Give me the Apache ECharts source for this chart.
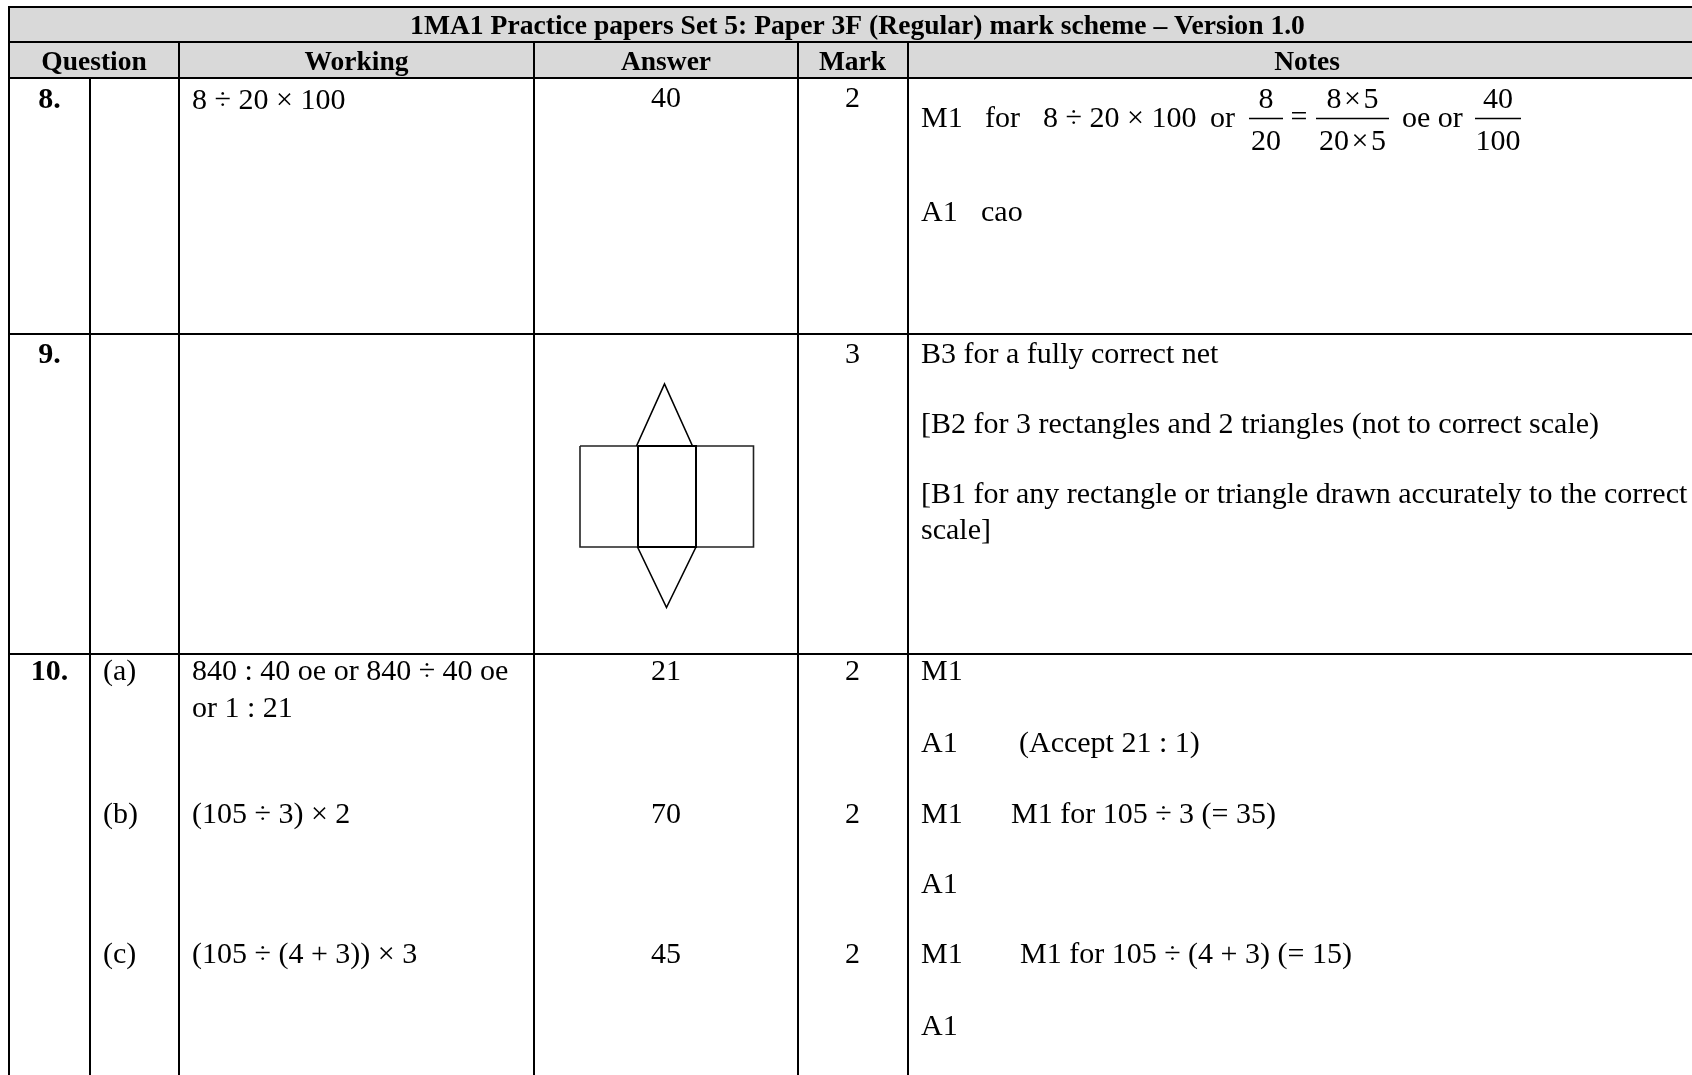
<!DOCTYPE html>
<html>
<head>
<meta charset="utf-8">
<title>1MA1 mark scheme</title>
<style>
  html, body { margin: 0; padding: 0; background: #fff; overflow: hidden; }
  #main { width: 1692px; height: 1075px; }
</style>
<script src="https://cdn.jsdelivr.net/npm/echarts@6/dist/echarts.min.js"></script>
</head>
<body>
<div id="main"></div>
<script>
// texts
const titleText = ['1MA1 Practice papers Set 5: Paper 3F (Regular) mark scheme – Version 1.0']
const headers = ['Question', 'Working', 'Answer', 'Mark', 'Notes']
const questions = ['8.', '9.', '10.']
const parts = ['(a)', '(b)', '(c)']
const workings = ['8 ÷ 20 × 100', '840 : 40 oe or 840 ÷ 40 oe', 'or 1 : 21', '(105 ÷ 3) × 2', '(105 ÷ (4 + 3)) × 3']
const answers = ['40', '21', '70', '45']
const marks = ['2', '3', '2', '2', '2']
const notes = [
  'M1', 'for', '8 ÷ 20 × 100', 'or', '=', 'oe or',
  'A1', 'cao',
  'B3 for a fully correct net',
  '[B2 for 3 rectangles and 2 triangles (not to correct scale)',
  '[B1 for any rectangle or triangle drawn accurately to the correct',
  'scale]',
  'M1', 'A1', '(Accept 21 : 1)', 'M1', 'M1 for 105 ÷ 3 (= 35)', 'A1', 'M1', 'M1 for 105 ÷ (4 + 3) (= 15)', 'A1'
]
const fractions = [['8', '20'], ['8\u200a×\u200a5', '20\u200a×\u200a5'], ['40', '100']]

// layout in page units
const colEdges = [9, 90, 179, 534, 798, 908]
const rowEdges = [7, 42, 78, 334, 654]
const pageW = 1692
const pageH = 1075
const tableRight = 1706
const questionY = [100, 355, 672]
const partY = [672, 815, 955]
const workingY = [101, 672, 709, 815, 955]
const answerY = [99, 672, 815, 955]
const markY = [99, 355, 672, 815, 955]
const noteX = [921, 985, 1043, 1210, 1299, 1402, 921, 981, 921, 921, 921, 921, 921, 921, 1019, 921, 1011, 921, 921, 1020, 921]
const noteY = [119.5, 119.5, 119.5, 119.5, 118, 119.5, 213, 213, 355, 425, 495, 531, 672, 744, 744, 815, 815, 885, 955, 955, 1027]
const fractionX = [[1249, 1283], [1316, 1389], [1475, 1521]]
const fractionLineY = 118.5
const fractionTopY = 100
const fractionBottomY = 142

// net drawing in the answer cell
const netOuter = [[580, 446], [753.5, 446], [753.5, 547], [580, 547], [580, 446]]
const netInner = [[638, 446], [696, 446], [696, 547], [638, 547], [638, 446]]
const netTop = [[636.5, 446], [664.5, 384], [692.5, 446]]
const netBottom = [[637.5, 547], [666.5, 607.5], [696, 547]]

const SERIF = '"Liberation Serif", "Times New Roman", serif'

function textItem (text, x, y, align, weight, size) {
  return { text, x, y, align, weight, size }
}

let cells = []
cells.push(textItem(titleText[0], (colEdges[0] + tableRight) / 2, 27, 'center', 'bold', 27.6))
const headerX = [
  (colEdges[0] + colEdges[2]) / 2,
  (colEdges[2] + colEdges[3]) / 2,
  (colEdges[3] + colEdges[4]) / 2,
  (colEdges[4] + colEdges[5]) / 2 - 0.5,
  (colEdges[5] + tableRight) / 2
]
headers.forEach((h, i) => cells.push(textItem(h, headerX[i], 63, 'center', 'bold', 27.5)))
questions.forEach((q, i) => cells.push(textItem(q, 49.5, questionY[i], 'center', 'bold', 30)))
parts.forEach((p, i) => cells.push(textItem(p, 103, partY[i], 'left', 'normal', 30)))
workings.forEach((w, i) => cells.push(textItem(w, 192, workingY[i], 'left', 'normal', 30)))
answers.forEach((a, i) => cells.push(textItem(a, headerX[2], answerY[i], 'center', 'normal', 30)))
marks.forEach((m, i) => cells.push(textItem(m, headerX[3], markY[i], 'center', 'normal', 30)))
notes.forEach((n, i) => cells.push(textItem(n, noteX[i], noteY[i], n === '=' ? 'center' : 'left', 'normal', 30)))
fractions.forEach((f, i) => {
  const mid = (fractionX[i][0] + fractionX[i][1]) / 2
  cells.push(textItem(f[0], mid, fractionTopY, 'center', 'normal', 30))
  cells.push(textItem(f[1], mid, fractionBottomY, 'center', 'normal', 30))
})

// [x1, y1, x2, y2, width]
let rules = []
rowEdges.forEach(y => rules.push([colEdges[0] - 1, y, pageW, y, 2]))
rules.push([colEdges[0], rowEdges[0], colEdges[0], pageH, 2])
rules.push([colEdges[1], rowEdges[2], colEdges[1], pageH, 2])
colEdges.slice(2).forEach(x => rules.push([x, rowEdges[1], x, pageH, 2]))
fractionX.forEach(f => rules.push([f[0], fractionLineY, f[1], fractionLineY, 1.3]))

const nets = [
  { pts: netOuter, width: 1.6, color: '#222' },
  { pts: netInner, width: 2, color: '#000' },
  { pts: netTop, width: 1.6, color: '#000' },
  { pts: netBottom, width: 1.6, color: '#000' }
]

const chart = echarts.init(document.getElementById('main'), null, { renderer: 'canvas' })
chart.setOption({
  backgroundColor: '#fff',
  animation: false,
  grid: { left: 0, right: 0, top: 0, bottom: 0 },
  xAxis: { type: 'value', min: 0, max: pageW, show: false },
  yAxis: { type: 'value', min: 0, max: pageH, inverse: true, show: false },
  series: [
    {
      // grey header bands
      type: 'custom',
      silent: true,
      data: [[colEdges[0], rowEdges[0], pageW, rowEdges[2]]],
      renderItem (params, api) {
        const a = api.coord([api.value(0), api.value(1)])
        const b = api.coord([api.value(2), api.value(3)])
        return { type: 'rect', shape: { x: a[0], y: a[1], width: b[0] - a[0], height: b[1] - a[1] }, style: { fill: '#d9d9d9' } }
      }
    },
    {
      type: 'custom',
      silent: true,
      data: rules,
      renderItem (params, api) {
        const a = api.coord([api.value(0), api.value(1)])
        const b = api.coord([api.value(2), api.value(3)])
        return {
          type: 'line',
          shape: { x1: a[0], y1: a[1], x2: b[0], y2: b[1] },
          style: { stroke: '#000', lineWidth: api.value(4) }
        }
      }
    },
    {
      type: 'custom',
      silent: true,
      data: nets.map((n, i) => [i]),
      renderItem (params, api) {
        const n = nets[params.dataIndex]
        return {
          type: 'polyline',
          shape: { points: n.pts.map(p => api.coord(p)) },
          style: { stroke: n.color, lineWidth: n.width, fill: null }
        }
      }
    },
    {
      type: 'custom',
      silent: true,
      data: cells.map((c, i) => [c.x, c.y, i]),
      renderItem (params, api) {
        const c = cells[params.dataIndex]
        const p = api.coord([api.value(0), api.value(1)])
        return {
          type: 'text',
          style: {
            text: c.text,
            x: p[0],
            y: p[1],
            fill: '#000',
            font: c.weight + ' ' + c.size + 'px ' + SERIF,
            align: c.align,
            verticalAlign: 'middle'
          }
        }
      }
    }
  ]
})
window.addEventListener('resize', () => chart.resize())
</script>
</body>
</html>
